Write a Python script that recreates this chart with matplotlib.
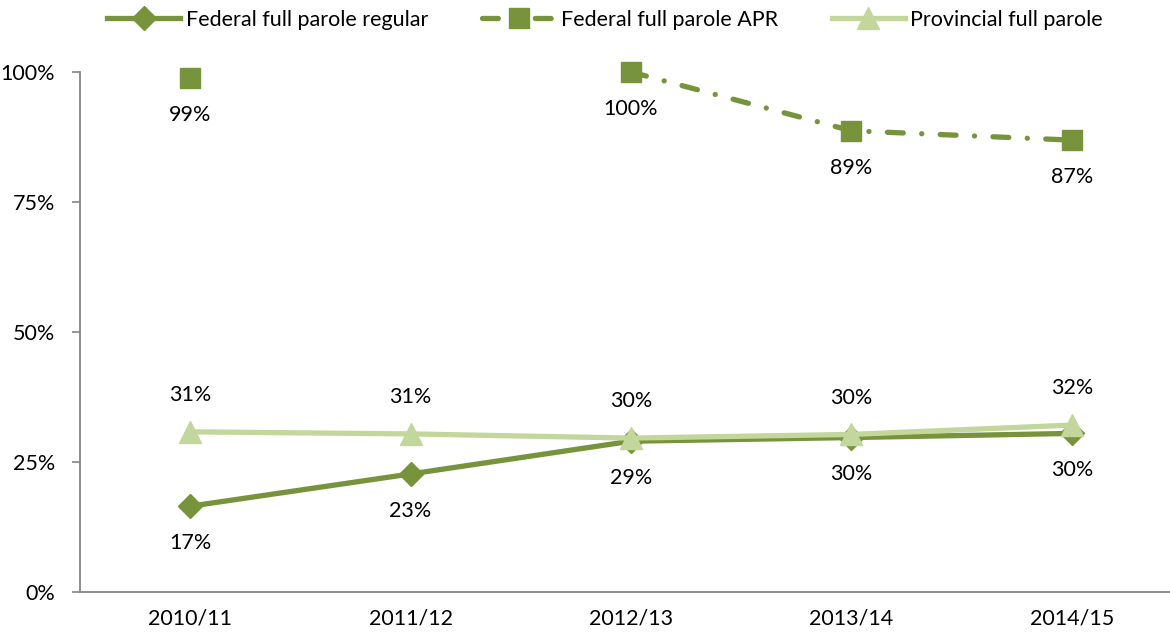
import matplotlib
matplotlib.use("Agg")
import matplotlib.pyplot as plt
import numpy as np

categories = ["2010/11", "2011/12", "2012/13", "2013/14", "2014/15"]
regular = [16.5, 22.7, 29.0, 29.7, 30.5]
regular_labels = ["17%", "23%", "29%", "30%", "30%"]
apr = [98.8, None, 100.0, 88.7, 86.9]
apr_labels = ["99%", "", "100%", "89%", "87%"]
provincial = [30.8, 30.4, 29.6, 30.3, 32.1]
provincial_labels = ["31%", "31%", "30%", "30%", "32%"]
yticks = [0, 25, 50, 75, 100]

DARK = "#77933C"
LIGHT = "#C3D69B"

plt.rcParams['font.family'] = ['Lato', 'DejaVu Sans']
FS = 15.5

fig = plt.figure(figsize=(11.7, 6.35), dpi=100)
ax = fig.add_axes([80/1170, 43/635, 1102/1170, 520/635])
x = np.arange(len(categories))

apr_arr = np.array([np.nan if v is None else v for v in apr], dtype=float)

l1, = ax.plot(x, regular, color=DARK, lw=3.8, marker="D", ms=12, zorder=2,
              label="Federal full parole regular", clip_on=False)
l2, = ax.plot(x, apr_arr, color=DARK, lw=3.8, marker="s", ms=14.5, zorder=3,
              label="Federal full parole APR", dash_capstyle="round", clip_on=False)
l2.set_dashes((3.0, 3.5, 0.01, 3.5))
l3, = ax.plot(x, provincial, color=LIGHT, lw=3.8, marker="^", ms=16, zorder=4,
              label="Provincial full parole", clip_on=False)

off = 26.5
for xi, v, t in zip(x, regular, regular_labels):
    ax.annotate(t, (xi, v), xytext=(0, -off), textcoords="offset points",
                ha="center", va="center", fontsize=FS, color="black")
for xi, v, t in zip(x, provincial, provincial_labels):
    ax.annotate(t, (xi, v), xytext=(0, off), textcoords="offset points",
                ha="center", va="center", fontsize=FS, color="black")
for xi, v, t in zip(x, apr, apr_labels):
    if v is None:
        continue
    ax.annotate(t, (xi, v), xytext=(0, -off), textcoords="offset points",
                ha="center", va="center", fontsize=FS, color="black")

ax.set_xlim(-0.5, len(categories) - 0.5)
ax.set_ylim(0, 100)
ax.set_yticks(yticks)
ax.set_yticklabels([f"{v}%" for v in yticks], fontsize=FS)
ax.set_xticks(x)
ax.set_xticklabels(categories, fontsize=FS)
ax.tick_params(axis="x", length=0, pad=12)
ax.tick_params(axis="y", length=6, width=1.2, color="#868686", pad=12)
for s in ["top", "right"]:
    ax.spines[s].set_visible(False)
for s in ["left", "bottom"]:
    ax.spines[s].set_color("#868686")
    ax.spines[s].set_linewidth(1.3)

fig.legend(handles=[l1, l2, l3], loc="center", bbox_to_anchor=(605/1170, 1 - 20/635),
           ncol=3, frameon=False, fontsize=FS, handlelength=3.4,
           handletextpad=0.25, columnspacing=2.5, borderpad=0)

fig.savefig("out.png", dpi=100)
